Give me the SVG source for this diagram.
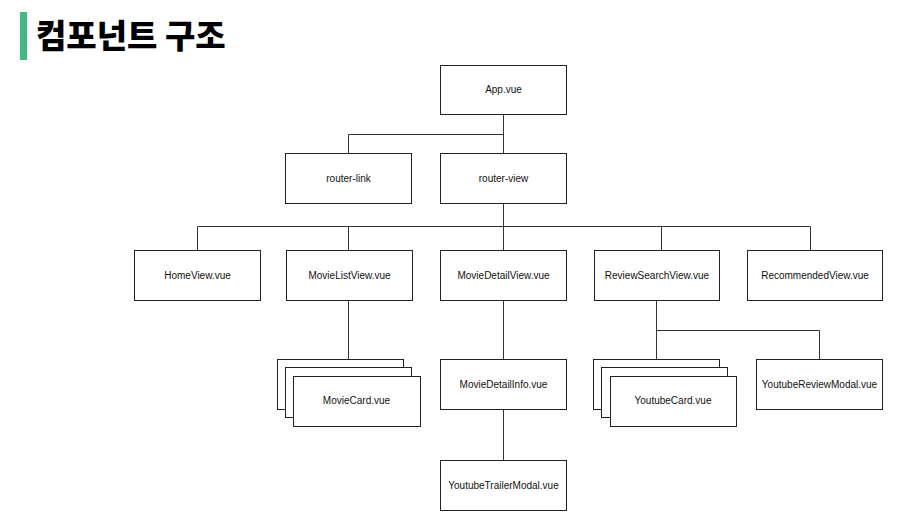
<svg xmlns="http://www.w3.org/2000/svg" width="924" height="530" viewBox="0 0 924 530">
  <style>
    .box { fill: #fff; stroke: #222; stroke-width: 1; }
    .lbl { font-family: "Liberation Sans", Arial, sans-serif; font-size: 10px; fill: #111; text-anchor: middle; }
    .wire { fill: none; stroke: #333; stroke-width: 1; }
    .title { font-family: "Noto Sans CJK KR", "Noto Sans", sans-serif; font-size: 33px; font-weight: 900; fill: #000; }
  </style>
  <rect width="924" height="530" fill="#fff"/>

  <!-- heading -->
  <g id="heading">
    <rect x="20" y="12" width="7" height="48" fill="#42b883"/>
    <text class="title" x="36" y="48">컴포넌트 구조</text>
  </g>

  <!-- connectors -->
  <g id="connectors">
    <path class="wire" d="M503.5 114.5 V153.5 M348.5 153.5 V134.5 H503.5"/>
    <path class="wire" d="M503.5 203.5 V250.5 M197.5 250.5 V226.5 H810.5 V250.5 M348.5 226.5 V250.5 M661.5 226.5 V250.5"/>
    <path class="wire" d="M348.5 300.5 V359.5"/>
    <path class="wire" d="M503.5 300.5 V359.5 M503.5 409.5 V460.5"/>
    <path class="wire" d="M656.5 300.5 V359.5 M656.5 330.5 H819.5 V359.5"/>
  </g>

  <g id="app">
    <rect class="box" x="440.5" y="65.5" width="126" height="49"/>
    <text class="lbl" x="503.5" y="93">App.vue</text>
  </g>
  <g id="router-link">
    <rect class="box" x="285.5" y="153.5" width="126" height="50"/>
    <text class="lbl" x="348.5" y="182">router-link</text>
  </g>
  <g id="router-view">
    <rect class="box" x="440.5" y="153.5" width="126" height="50"/>
    <text class="lbl" x="503.5" y="182">router-view</text>
  </g>

  <g id="home-view">
    <rect class="box" x="134.5" y="250.5" width="126" height="50"/>
    <text class="lbl" x="197.5" y="279">HomeView.vue</text>
  </g>
  <g id="movie-list-view">
    <rect class="box" x="286.5" y="250.5" width="126" height="50"/>
    <text class="lbl" x="349.5" y="279">MovieListView.vue</text>
  </g>
  <g id="movie-detail-view">
    <rect class="box" x="440.5" y="250.5" width="126" height="50"/>
    <text class="lbl" x="503.5" y="279">MovieDetailView.vue</text>
  </g>
  <g id="review-search-view">
    <rect class="box" x="594.5" y="250.5" width="125" height="50"/>
    <text class="lbl" x="657" y="279">ReviewSearchView.vue</text>
  </g>
  <g id="recommended-view">
    <rect class="box" x="747.5" y="250.5" width="135" height="50"/>
    <text class="lbl" x="815" y="279">RecommendedView.vue</text>
  </g>

  <g id="movie-card">
    <rect class="box" x="277.5" y="359.5" width="126" height="50"/>
    <rect class="box" x="285.5" y="367.5" width="126" height="50"/>
    <rect class="box" x="293.5" y="376.5" width="127" height="50"/>
    <text class="lbl" x="356.5" y="404">MovieCard.vue</text>
  </g>
  <g id="movie-detail-info">
    <rect class="box" x="440.5" y="359.5" width="126" height="50"/>
    <text class="lbl" x="503.5" y="388">MovieDetailInfo.vue</text>
  </g>
  <g id="youtube-card">
    <rect class="box" x="593.5" y="359.5" width="126" height="50"/>
    <rect class="box" x="601.5" y="367.5" width="126" height="50"/>
    <rect class="box" x="610.5" y="376.5" width="126" height="50"/>
    <text class="lbl" x="673" y="404">YoutubeCard.vue</text>
  </g>
  <g id="youtube-review-modal">
    <rect class="box" x="756.5" y="359.5" width="126" height="50"/>
    <text class="lbl" x="819.5" y="388">YoutubeReviewModal.vue</text>
  </g>
  <g id="youtube-trailer-modal">
    <rect class="box" x="440.5" y="460.5" width="126" height="50"/>
    <text class="lbl" x="503.5" y="489">YoutubeTrailerModal.vue</text>
  </g>
</svg>
